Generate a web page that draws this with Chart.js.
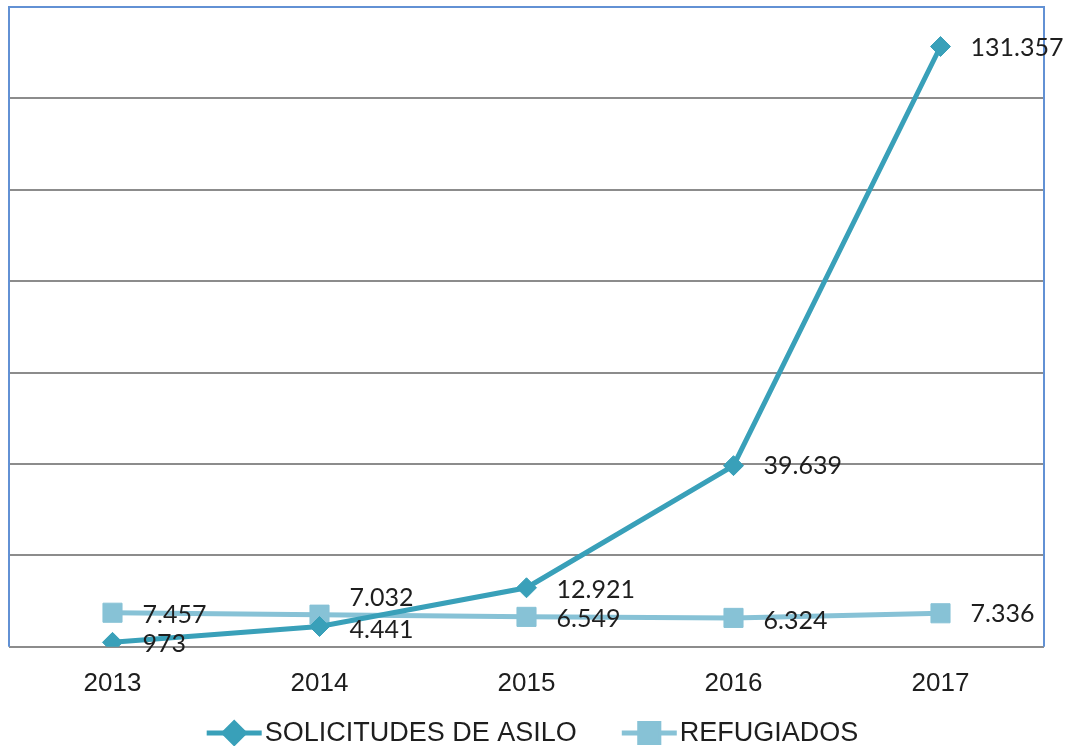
<!DOCTYPE html>
<html>
<head>
<meta charset="utf-8">
<script src="https://cdn.jsdelivr.net/npm/chart.js@4/dist/chart.umd.min.js"></script>
<style>
  html, body { margin: 0; padding: 0; background: #ffffff; }
  #wrap { position: relative; width: 1065px; height: 746px; }
</style>
</head>
<body>
<div id="wrap"><canvas id="c"></canvas></div>
<script>
const categories = ['2013', '2014', '2015', '2016', '2017'];
const solicitudesAsilo = [973, 4441, 12921, 39639, 131357];
const refugiados = [7457, 7032, 6549, 6324, 7336];
const seriesNames = ['SOLICITUDES DE ASILO', 'REFUGIADOS'];

const darkTeal = 'rgb(57,160,185)';
const lightTeal = 'rgb(135,194,214)';

function fmt(v) {
  return String(v).replace(/\B(?=(\d{3})+(?!\d))/g, '.');
}

// label vertical tweaks (per dataset, per point) in px
const labelDy = [[2, 3, 2, 0, 1], [2, -17, 2, 3, 1]];

const frame = {
  id: 'frame',
  beforeDatasetsDraw(chart) {
    const { ctx, chartArea: a } = chart;
    ctx.save();
    ctx.strokeStyle = 'rgb(98,145,212)';
    ctx.lineWidth = 2;
    ctx.beginPath();
    ctx.moveTo(a.left, a.bottom);
    ctx.lineTo(a.left, a.top);
    ctx.lineTo(a.right, a.top);
    ctx.lineTo(a.right, a.bottom);
    ctx.stroke();
    ctx.restore();
  }
};

const labels = {
  id: 'labels',
  afterDatasetsDraw(chart) {
    const { ctx } = chart;
    ctx.save();
    ctx.font = '25px Lato';
    ctx.fillStyle = '#1e1e1e';
    ctx.textAlign = 'left';
    ctx.textBaseline = 'middle';
    chart.data.datasets.forEach((ds, di) => {
      const meta = chart.getDatasetMeta(di);
      meta.data.forEach((pt, i) => {
        ctx.fillText(fmt(ds.data[i]), pt.x + 30, pt.y + labelDy[di][i]);
      });
    });
    ctx.restore();
  }
};

const legendPlugin = {
  id: 'customLegend',
  afterDraw(chart) {
    const { ctx } = chart;
    ctx.save();
    ctx.font = '27px "Liberation Sans", Arial, sans-serif';
    ctx.textBaseline = 'middle';
    ctx.textAlign = 'left';
    const lineLen = 55, gap = 3, itemGap = 45;
    const items = chart.data.datasets.map(ds => ({ ds, w: ctx.measureText(ds.label).width }));
    let total = 0;
    items.forEach((it, i) => { total += lineLen + gap + it.w + (i ? itemGap : 0); });
    let x = 1065 / 2 - total / 2;
    const y = 733;
    items.forEach((it, i) => {
      if (i) x += itemGap;
      const ds = it.ds;
      ctx.strokeStyle = ds.borderColor;
      ctx.lineWidth = 5;
      ctx.beginPath();
      ctx.moveTo(x, y);
      ctx.lineTo(x + lineLen, y);
      ctx.stroke();
      Chart.helpers.drawPoint(ctx, {
        pointStyle: ds.pointStyle,
        radius: ds.pointRadius,
        borderWidth: 1,
        rotation: 0
      }, x + lineLen / 2, y);
      ctx.fillStyle = ds.borderColor;
      ctx.fill();
      ctx.fillStyle = '#1e1e1e';
      ctx.fillText(ds.label, x + lineLen + gap, y + 1);
      x += lineLen + gap + it.w;
    });
    ctx.restore();
  }
};

new Chart(document.getElementById('c'), {
  type: 'line',
  data: {
    labels: categories,
    datasets: [
      {
        label: seriesNames[0],
        data: solicitudesAsilo,
        borderColor: darkTeal,
        backgroundColor: darkTeal,
        borderWidth: 5,
        pointStyle: 'rectRot',
        pointRadius: 10,
        pointHoverRadius: 10,
        pointBorderWidth: 1,
        tension: 0
      },
      {
        label: seriesNames[1],
        data: refugiados,
        borderColor: lightTeal,
        backgroundColor: lightTeal,
        borderWidth: 5,
        pointStyle: 'rect',
        pointRadius: 13.5,
        pointHoverRadius: 13.5,
        pointBorderWidth: 1,
        tension: 0
      }
    ]
  },
  options: {
    responsive: true,
    maintainAspectRatio: false,
    animation: false,
    events: [],
    layout: { autoPadding: false, padding: { left: 9, right: 21, top: 7, bottom: 26 } },
    plugins: {
      legend: { display: false },
      tooltip: { enabled: false }
    },
    scales: {
      x: {
        offset: true,
        grid: { display: false, drawTicks: false },
        border: { display: false },
        ticks: {
          padding: 21,
          color: '#1e1e1e',
          font: { family: '"Liberation Sans", Arial, sans-serif', size: 26 }
        }
      },
      y: {
        min: 0,
        max: 140000,
        ticks: { display: false, stepSize: 20000 },
        border: { display: false },
        grid: {
          drawTicks: false,
          lineWidth: 2,
          color: (c) => (c.tick && c.tick.value === 140000 ? 'rgba(0,0,0,0)' : 'rgb(140,140,140)')
        }
      }
    }
  },
  plugins: [frame, labels, legendPlugin]
});
</script>
</body>
</html>
